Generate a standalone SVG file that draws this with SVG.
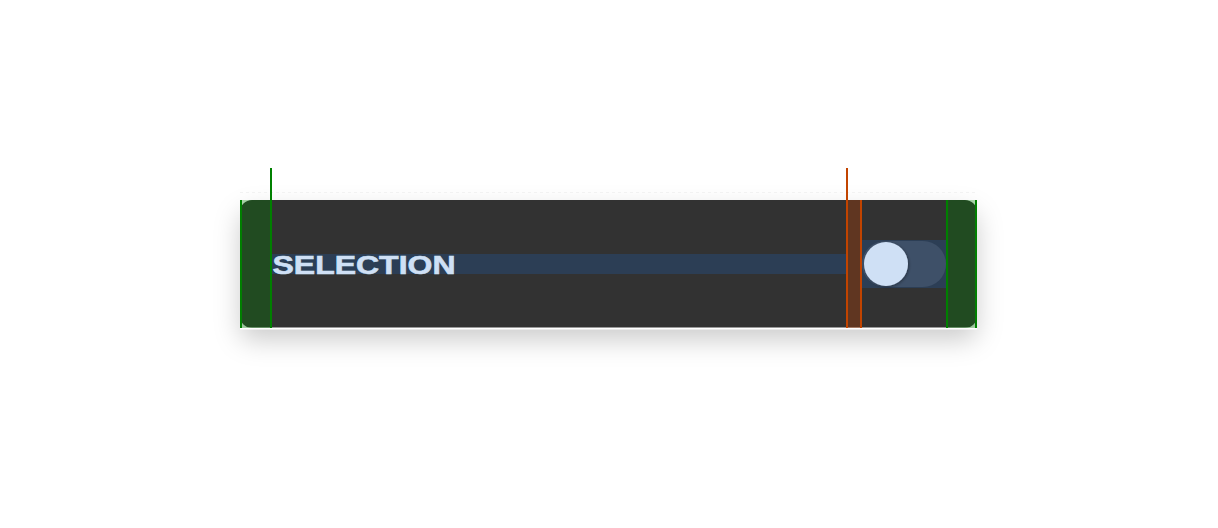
<svg xmlns="http://www.w3.org/2000/svg" width="1218" height="528" viewBox="0 0 1218 528">
  <defs>
    <filter id="shadow" x="-10%" y="-30%" width="120%" height="180%">
      <feDropShadow dx="0" dy="12" stdDeviation="13" flood-color="#000" flood-opacity="0.2"/>
    </filter>
    <filter id="thumbShadow" x="-30%" y="-30%" width="160%" height="160%">
      <feDropShadow dx="1" dy="1" stdDeviation="1.5" flood-color="#000" flood-opacity="0.35"/>
    </filter>
    <style>
      .green-line { stroke: #008000; stroke-width: 2; }
      .orange-line { stroke: #c24400; stroke-width: 2; }
      .green-pad { fill: rgba(0,128,0,0.33); }
      .orange-pad { fill: rgba(190,64,0,0.33); }
      .label { font-family: "Liberation Sans", Arial, sans-serif; font-weight: 700; font-size: 26px; fill: #cfe0f5; stroke: #cfe0f5; stroke-width: 0.6; }
    </style>
  </defs>
  <rect x="0" y="0" width="1218" height="528" fill="#ffffff"/>

  <g id="card">
    <rect x="240" y="200" width="737" height="128" rx="12" fill="#333333" filter="url(#shadow)"/>
    <line x1="240" y1="328.5" x2="977" y2="328.5" stroke="#ffffff" stroke-width="2"/>
    <line x1="240" y1="192.5" x2="977" y2="192.5" stroke="#f2f2f2" stroke-width="1" stroke-dasharray="3 3"/>
  </g>

  <g id="label">
    <rect x="272" y="254" width="575" height="20" fill="#2c3e55"/>
    <text class="label" x="272.5" y="273.5" textLength="183" lengthAdjust="spacingAndGlyphs">SELECTION</text>
  </g>

  <g id="toggle">
    <rect x="861" y="240" width="85" height="48" fill="#2c3e55"/>
    <rect x="862" y="241" width="84" height="46" rx="23" fill="#3e5068"/>
    <circle cx="886" cy="264" r="22" fill="#cfe0f5" filter="url(#thumbShadow)"/>
  </g>

  <g id="overlays">
    <rect class="green-pad" x="240" y="200" width="31" height="128"/>
    <rect class="green-pad" x="947" y="200" width="30" height="128"/>
    <rect class="orange-pad" x="847" y="200" width="14" height="128"/>
  </g>

  <g id="connectors">
    <line class="green-line" x1="241" y1="200" x2="241" y2="328"/>
    <line class="green-line" x1="271" y1="168" x2="271" y2="328"/>
    <line class="green-line" x1="947" y1="200" x2="947" y2="328"/>
    <line class="green-line" x1="976" y1="200" x2="976" y2="328"/>
    <line class="orange-line" x1="847" y1="168" x2="847" y2="328"/>
    <line class="orange-line" x1="861" y1="200" x2="861" y2="328"/>
  </g>
</svg>
